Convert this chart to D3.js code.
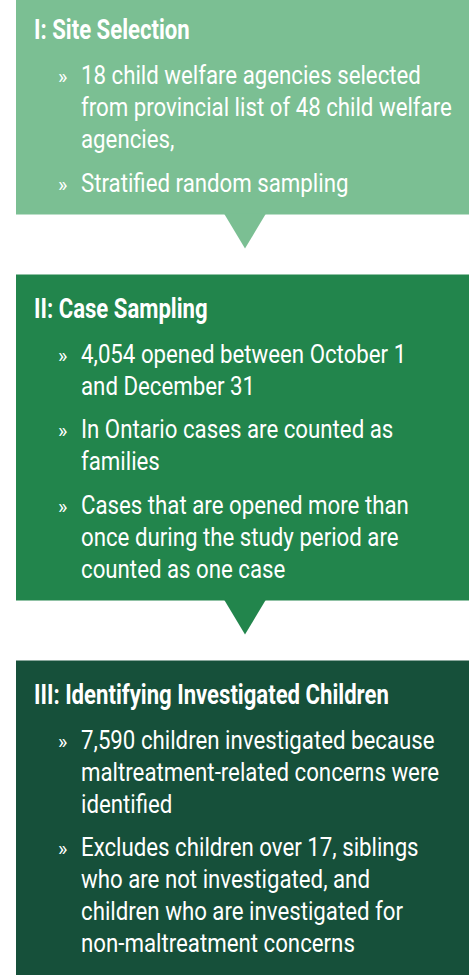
<!DOCTYPE html>
<head>
  <meta charset="utf-8">
  <script src="https://d3js.org/d3.v7.min.js"></script>
  <style>
    body { margin:0; background:#fff; overflow:hidden; }
    text { fill:#fff; }
  </style>
</head>
<body>
<script>
  // stage data
  var titles = ["I: Site Selection", "II: Case Sampling", "III: Identifying Investigated Children"];
  var colors = ["#7bbf93", "#22854c", "#16503a"];
  var bullets = [
    [["18 child welfare agencies selected", "from provincial list of 48 child welfare", "agencies,"],
     ["Stratified random sampling"]],
    [["4,054 opened between October 1", "and December 31"],
     ["In Ontario cases are counted as", "families"],
     ["Cases that are opened more than", "once during the study period are", "counted as one case"]],
    [["7,590 children investigated because", "maltreatment-related concerns were", "identified"],
     ["Excludes children over 17, siblings", "who are not investigated, and", "children who are investigated for", "non-maltreatment concerns"]]
  ];

  var W = 469, H = 975;
  var boxLeft = 16, textX = 81, bulletX = 58, titleX = 34;
  var lineStep = 32, bulletStep = 43.5, gap = 60;
  var arrowCx = 245, arrowHalf = 21, arrowDepth = 34;

  var svg = d3.select("body").append("svg")
    .attr("width", W).attr("height", H);

  // measure fonts to get condensed look
  var probe = svg.append("text").attr("font-family", "Roboto").attr("font-size", 25)
    .text("18 child welfare agencies selected");
  var bodyScale = 340 / probe.node().getComputedTextLength();
  probe.attr("font-weight", "bold").attr("font-size", 27).text("III: Identifying Investigated Children");
  var titleScale = 355 / probe.node().getComputedTextLength();
  probe.remove();

  var boxTop = -4;
  titles.forEach(function(t, i) {
    var g = svg.append("g");
    var rect = g.append("rect").attr("x", boxLeft).attr("width", W - boxLeft)
      .attr("fill", colors[i]);

    var ty = boxTop + 43;
    g.append("text")
      .attr("transform", "translate(" + titleX + "," + ty + ") scale(" + titleScale + ",1)")
      .attr("font-family", "Roboto").attr("font-weight", "bold").attr("font-size", 27)
      .text(t);

    var y = ty + 45;
    bullets[i].forEach(function(b, bi) {
      if (bi > 0) y += bulletStep;
      g.append("text")
        .attr("x", bulletX).attr("y", y)
        .attr("font-family", "Roboto").attr("font-size", 20)
        .text("\u00bb");
      b.forEach(function(line, li) {
        if (li > 0) y += lineStep;
        g.append("text")
          .attr("transform", "translate(" + textX + "," + y + ") scale(" + bodyScale + ",1)")
          .attr("font-family", "Roboto").attr("font-size", 25)
          .text(line);
      });
    });

    var bottom = (i == titles.length - 1) ? H + 5 : y + 23;
    rect.attr("y", boxTop).attr("height", bottom - boxTop);

    if (i < titles.length - 1) {
      g.append("path")
        .attr("d", d3.line()([[arrowCx - arrowHalf, bottom - 1], [arrowCx + arrowHalf, bottom - 1], [arrowCx, bottom + arrowDepth]]) + "Z")
        .attr("fill", colors[i]);
    }
    boxTop = bottom + gap;
  });
</script>
</body>
